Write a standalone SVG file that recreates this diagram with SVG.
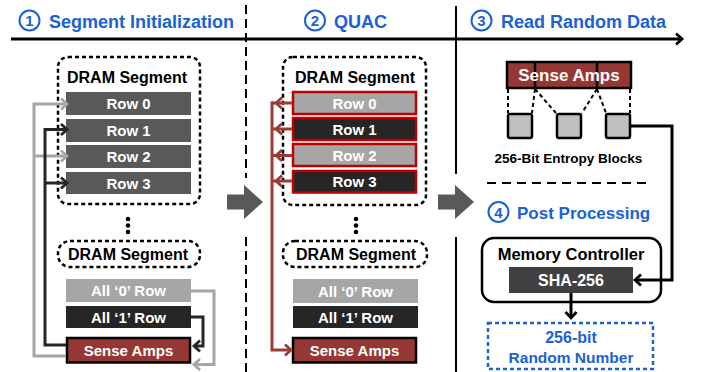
<svg xmlns="http://www.w3.org/2000/svg" width="702" height="372" viewBox="0 0 702 372">
  <style>
    text { font-family: "Liberation Sans", Arial, sans-serif; font-weight: bold; text-anchor: middle; }
    .title { fill: #1a62d4; font-size: 18px; text-anchor: start; }
    .num { fill: #1a62d4; font-size: 15px; }
    .ring { fill: none; stroke: #1a62d4; stroke-width: 2; }
    .lbl { fill: #000; font-size: 16px; }
    .row { fill: #fff; font-size: 15px; }
    .seg { fill: none; stroke: #000; stroke-width: 2.5; stroke-dasharray: 4 3; }
    .dark { fill: #595959; }
    .g1 { fill: #a6a6a6; }
    .g0 { fill: #262626; }
    .sa { fill: #953735; stroke: #000; stroke-width: 2.5; }
    .hot { stroke: #c00000; stroke-width: 2.5; }
    .dot { fill: #000; }
    .wire { fill: none; stroke-width: 3; stroke-linejoin: miter; }
    .gray { stroke: #a6a6a6; }
    .blk { stroke: #262626; }
    .red { stroke: #9b3c37; }
    .ink { stroke: #000; }
    .big { fill: #595959; }
    .blue { fill: #1a62d4; }
  </style>
  <defs>
    <marker id="ahGray" markerUnits="userSpaceOnUse" markerWidth="16" markerHeight="16" refX="10" refY="8" orient="auto" overflow="visible">
      <path d="M4,2.5 L10,8 L4,13.5" fill="none" stroke="#a6a6a6" stroke-width="2.8"/>
    </marker>
    <marker id="ahBlk" markerUnits="userSpaceOnUse" markerWidth="16" markerHeight="16" refX="10" refY="8" orient="auto" overflow="visible">
      <path d="M4,2.5 L10,8 L4,13.5" fill="none" stroke="#262626" stroke-width="2.8"/>
    </marker>
    <marker id="ahRed" markerUnits="userSpaceOnUse" markerWidth="16" markerHeight="16" refX="10" refY="8" orient="auto" overflow="visible">
      <path d="M4,2.5 L10,8 L4,13.5" fill="none" stroke="#9b3c37" stroke-width="2.8"/>
    </marker>
    <marker id="ahInk" markerUnits="userSpaceOnUse" markerWidth="16" markerHeight="16" refX="10" refY="8" orient="auto" overflow="visible">
      <path d="M4,2.5 L10,8 L4,13.5" fill="none" stroke="#000" stroke-width="2.8"/>
    </marker>
    <path id="chevL" d="M6,-5.5 L0,0 L6,5.5" fill="none" stroke="#9b3c37" stroke-width="2.8"/>
    <path id="bigArrow" d="M0,-7.5 H17 V-17 L36,0 L17,17 V7.5 H0 Z"/>
  </defs>

  <!-- timeline and stage separators -->
  <g id="frame">
    <line x1="11" y1="39" x2="682" y2="39" class="wire ink" marker-end="url(#ahInk)"/>
    <line x1="246" y1="5" x2="246" y2="178" stroke="#000" stroke-width="2" stroke-dasharray="9 5"/>
    <line x1="246" y1="237" x2="246" y2="372" stroke="#000" stroke-width="2" stroke-dasharray="9 5"/>
    <line x1="456" y1="6" x2="456" y2="174" stroke="#000" stroke-width="2"/>
    <line x1="456" y1="237" x2="456" y2="372" stroke="#000" stroke-width="2"/>
    <line x1="487" y1="183" x2="647" y2="183" stroke="#000" stroke-width="2" stroke-dasharray="9 6"/>
    <use href="#bigArrow" x="227" y="202" class="big"/>
    <use href="#bigArrow" x="438" y="202" class="big"/>
  </g>

  <!-- stage headings -->
  <g id="title-1">
    <circle cx="29.5" cy="20.5" r="10" class="ring"/>
    <text x="29.5" y="26" class="num">1</text>
    <text x="49" y="27.5" class="title">Segment Initialization</text>
  </g>
  <g id="title-2">
    <circle cx="315" cy="20.5" r="10" class="ring"/>
    <text x="315" y="26" class="num">2</text>
    <text x="334" y="27.5" class="title">QUAC</text>
  </g>
  <g id="title-3">
    <circle cx="481.5" cy="20.5" r="10" class="ring"/>
    <text x="481.5" y="26" class="num">3</text>
    <text x="501" y="27.5" class="title">Read Random Data</text>
  </g>
  <g id="title-4">
    <circle cx="498.5" cy="212" r="10" class="ring"/>
    <text x="498.5" y="217.5" class="num">4</text>
    <text x="517" y="218.5" class="title" font-size="17" style="font-size:17px">Post Processing</text>
  </g>

  <!-- stage 1: segment initialization -->
  <g id="init-segment">
    <rect x="58" y="57" width="142" height="147" rx="10" class="seg"/>
    <text x="127" y="82.5" class="lbl">DRAM Segment</text>
    <rect x="66" y="92" width="125" height="23" class="dark"/>
    <text x="128.5" y="109" class="row">Row 0</text>
    <rect x="66" y="119" width="125" height="23" class="dark"/>
    <text x="128.5" y="136" class="row">Row 1</text>
    <rect x="66" y="145" width="125" height="23" class="dark"/>
    <text x="128.5" y="162" class="row">Row 2</text>
    <rect x="66" y="172" width="125" height="22" class="dark"/>
    <text x="128.5" y="188.5" class="row">Row 3</text>
  </g>
  <g id="init-ellipsis">
    <circle cx="128" cy="219" r="2.3" class="dot"/>
    <circle cx="128" cy="225.5" r="2.3" class="dot"/>
    <circle cx="128" cy="232" r="2.3" class="dot"/>
  </g>
  <g id="init-segment-2">
    <rect x="58" y="241" width="142" height="26" rx="12" class="seg"/>
    <text x="128" y="259.5" class="lbl">DRAM Segment</text>
  </g>
  <g id="init-all0">
    <rect x="66" y="279" width="125" height="23" class="g1"/>
    <text x="128.5" y="296" class="row">All ‘0’ Row</text>
  </g>
  <g id="init-all1">
    <rect x="66" y="306" width="125" height="22" class="g0"/>
    <text x="128.5" y="322.5" class="row">All ‘1’ Row</text>
  </g>
  <g id="init-sa">
    <rect x="67" y="338" width="123" height="24.5" class="sa"/>
    <text x="128.5" y="355.5" class="row">Sense Amps</text>
  </g>

  <!-- stage 2: QUAC -->
  <g id="quac-segment">
    <rect x="283" y="57" width="143" height="148" rx="10" class="seg"/>
    <text x="355" y="82.5" class="lbl">DRAM Segment</text>
    <rect x="293" y="92" width="123" height="22" class="g1 hot"/>
    <text x="354.5" y="108.5" class="row">Row 0</text>
    <rect x="293" y="118" width="123" height="22" class="g0 hot"/>
    <text x="354.5" y="134.5" class="row">Row 1</text>
    <rect x="293" y="144" width="123" height="22" class="g1 hot"/>
    <text x="354.5" y="160.5" class="row">Row 2</text>
    <rect x="293" y="171" width="123" height="21.5" class="g0 hot"/>
    <text x="354.5" y="187" class="row">Row 3</text>
  </g>
  <g id="quac-ellipsis">
    <circle cx="356" cy="219" r="2.3" class="dot"/>
    <circle cx="356" cy="225.5" r="2.3" class="dot"/>
    <circle cx="356" cy="232" r="2.3" class="dot"/>
  </g>
  <g id="quac-segment-2">
    <rect x="283" y="241" width="144" height="26" rx="12" class="seg"/>
    <text x="356" y="259.5" class="lbl">DRAM Segment</text>
  </g>
  <g id="quac-all0">
    <rect x="293" y="279" width="125" height="24" class="g1"/>
    <text x="355.5" y="296.5" class="row">All ‘0’ Row</text>
  </g>
  <g id="quac-all1">
    <rect x="293" y="306" width="125" height="22" class="g0"/>
    <text x="355.5" y="322.5" class="row">All ‘1’ Row</text>
  </g>
  <g id="quac-sa">
    <rect x="293" y="338" width="123" height="24.5" class="sa"/>
    <text x="354.5" y="355.5" class="row">Sense Amps</text>
  </g>

  <!-- stage 3: reading random data -->
  <g id="read-sa">
    <rect x="507" y="62" width="124" height="26" class="sa"/>
    <line x1="535" y1="62" x2="535" y2="88" stroke="#000" stroke-width="2.5"/>
    <line x1="597" y1="62" x2="597" y2="88" stroke="#000" stroke-width="2.5"/>
    <text x="569" y="81" class="row" style="font-size:17px">Sense Amps</text>
  </g>
  <g id="entropy-blocks">
    <rect x="508" y="114" width="24" height="24" rx="2" fill="#bfbfbf" stroke="#000" stroke-width="2.5"/>
    <rect x="557" y="114" width="24" height="24" rx="2" fill="#bfbfbf" stroke="#000" stroke-width="2.5"/>
    <rect x="606" y="114" width="24" height="24" rx="2" fill="#bfbfbf" stroke="#000" stroke-width="2.5"/>
    <text x="568.5" y="163" class="lbl" style="font-size:13.5px">256-Bit Entropy Blocks</text>
  </g>

  <!-- stage 4: post processing -->
  <g id="memory-controller">
    <rect x="482" y="238" width="179" height="64" rx="12" fill="#fff" stroke="#000" stroke-width="2.5"/>
    <text x="571" y="260" class="lbl" style="font-size:16.5px">Memory Controller</text>
  </g>
  <g id="sha256">
    <rect x="509" y="267" width="124" height="26" fill="#404040"/>
    <text x="571" y="285.5" class="row" style="font-size:16px">SHA-256</text>
  </g>
  <g id="random-number">
    <rect x="488" y="323" width="165" height="46" fill="none" stroke="#1a62d4" stroke-width="2.5" stroke-dasharray="4 3"/>
    <text x="571" y="343" class="blue" style="font-size:16px">256-bit</text>
    <text x="571" y="362.5" class="blue" style="font-size:15.5px">Random Number</text>
  </g>

  <!-- connectors -->
  <g id="connectors">
    <!-- stage 1: all-0 row into the sense amps, then out to rows 0 and 2 -->
    <path d="M191,291 H214 V364.5 H194" class="wire gray" marker-end="url(#ahGray)"/>
    <path d="M66,356 H34 V104 H67" class="wire gray" marker-end="url(#ahGray)"/>
    <path d="M34,156 H67" class="wire gray" marker-end="url(#ahGray)"/>
    <!-- stage 1: all-1 row into the sense amps, then out to rows 1 and 3 -->
    <path d="M191,317 H203 V346 H194" class="wire blk" marker-end="url(#ahBlk)"/>
    <path d="M66,345 H45 V129.5 H67" class="wire blk" marker-end="url(#ahBlk)"/>
    <path d="M45,183 H67" class="wire blk" marker-end="url(#ahBlk)"/>
    <!-- stage 2: rows activated together onto the sense amps -->
    <path d="M292,103 H272 M292,129 H272 M292,155.5 H272 M292,181 H272" class="wire red"/>
    <path d="M272,101.5 V350 H291" class="wire red" marker-end="url(#ahRed)"/>
    <use href="#chevL" x="276" y="103"/>
    <use href="#chevL" x="276" y="129"/>
    <use href="#chevL" x="276" y="155.5"/>
    <use href="#chevL" x="276" y="181"/>
    <!-- stage 3: sense amp slices to entropy blocks -->
    <g fill="none" stroke="#000" stroke-width="2" stroke-dasharray="4 3">
      <path d="M508,89 V113"/>
      <path d="M535,89 L532,113"/>
      <path d="M535,89 L556,113"/>
      <path d="M597,89 L582,113"/>
      <path d="M597,89 L606,113"/>
      <path d="M630,89 V113"/>
    </g>
    <!-- entropy block to SHA-256, SHA-256 to output -->
    <path d="M631,126 H672 V280 H635" class="wire ink" marker-end="url(#ahInk)"/>
    <path d="M571,293 V318" class="wire ink" marker-end="url(#ahInk)"/>
  </g>
</svg>
